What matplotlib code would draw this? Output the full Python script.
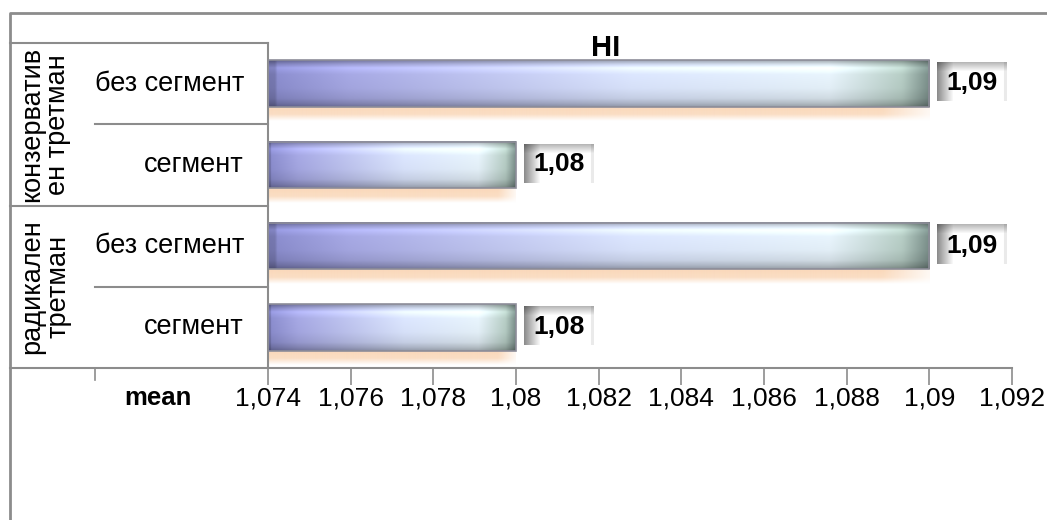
import numpy as np
import matplotlib.pyplot as plt
from matplotlib.lines import Line2D
from matplotlib.transforms import blended_transform_factory
from matplotlib.ticker import FuncFormatter

plt.rcParams['font.family'] = ['Liberation Sans', 'DejaVu Sans']

# data
groups = ['конзерватив\nен третман', 'радикален\nтретман']
subgroups = ['без сегмент', 'сегмент', 'без сегмент', 'сегмент']
values = [1.09, 1.08, 1.09, 1.08]
value_labels = ['1,09', '1,08', '1,09', '1,08']
xticks = [1.074, 1.076, 1.078, 1.08, 1.082, 1.084, 1.086, 1.088, 1.09, 1.092]
title = 'HI'
axis_name = 'mean'

W, H = 1047, 520
fig = plt.figure(figsize=(W / 100, H / 100), dpi=100)
ax = fig.add_axes([268 / W, 1 - 368 / H, (1012 - 268) / W, (368 - 43) / H])

x0 = xticks[0]
bar_h = 0.57
grey = '#8c8c8c'


def bar_image(n=60, m=240):
    # horizontal colour ramp: blue-violet -> pale -> grey-green
    pos = [0.0, 0.12, 0.55, 0.85, 0.96, 1.0]
    cols = np.array([[134, 136, 200], [162, 164, 222], [214, 224, 248],
                     [226, 238, 246], [178, 200, 192], [120, 140, 135]]) / 255
    t = np.linspace(0, 1, m)
    ramp = np.stack([np.interp(t, pos, cols[:, k]) for k in range(3)], -1)
    v = np.linspace(0, 1, n)
    shade = np.interp(v, [0, 0.06, 0.16, 0.3, 0.6, 0.82, 0.94, 1],
                      [0.72, 0.9, 1.14, 1.03, 1.0, 0.92, 0.78, 0.68])
    img = ramp[None, :, :] * shade[:, None, None]
    img[:, :3] *= 0.85
    return np.clip(img, 0, 1)


def shadow_image(n=30, m=200):
    img = np.zeros((n, m, 4))
    img[..., 0] = 250 / 255
    img[..., 1] = 216 / 255
    img[..., 2] = 186 / 255
    a = np.interp(np.linspace(0, 1, n), [0, 0.55, 1], [1.0, 0.85, 0.0])
    b = np.interp(np.linspace(0, 1, m), [0, 0.93, 1], [1, 1, 0.2])
    img[..., 3] = a[:, None] * b[None, :]
    return img


def box_image(n=40, m=70):
    xs = np.arange(m)[None, :]
    ys = np.arange(n)[:, None]
    g = (0.55 + 0.45 * np.minimum(xs / 16, 1)) * (0.72 + 0.28 * np.minimum(ys / 9, 1))
    g = g * (1 - 0.08 * (xs > m - 4))
    return np.repeat(np.clip(g, 0, 1)[..., None], 3, axis=2)


bimg = bar_image()
simg = shadow_image()
gimg = box_image()
px = (xticks[-1] - xticks[0]) / (1012 - 268)  # data units per pixel

for i, v in enumerate(values):
    ax.imshow(simg, extent=(x0, v, i + bar_h / 2 + 0.18, i + bar_h / 2),
              aspect='auto', interpolation='bilinear', zorder=1)
    ax.imshow(bimg, extent=(x0, v, i + bar_h / 2, i - bar_h / 2),
              aspect='auto', interpolation='bilinear', zorder=2)
    ax.barh(i, v - x0, left=x0, height=bar_h, fill=False,
            edgecolor='#8d8d99', linewidth=1.2, zorder=3)
    bl = v + 8 * px
    br = bl + 70 * px
    ax.imshow(gimg, extent=(bl, br, i + 0.22, i - 0.26),
              aspect='auto', interpolation='bilinear', zorder=3)
    ax.text((bl + br) / 2, i + 0.08, value_labels[i], ha='center', va='baseline',
            fontsize=19, fontweight='bold', zorder=4)

ax.set_xlim(xticks[0], xticks[-1])
ax.set_ylim(len(values) - 0.5, -0.5)
ax.set_xticks(xticks)
ax.xaxis.set_major_formatter(FuncFormatter(lambda x, p: ('%g' % x).replace('.', ',')))
ax.set_yticks([])
ax.tick_params(axis='x', length=12, width=1.2, color=grey, labelsize=19, pad=1)
for s in ['top', 'right']:
    ax.spines[s].set_visible(False)
for s in ['left', 'bottom']:
    ax.spines[s].set_color(grey)
    ax.spines[s].set_linewidth(1.5)

# category table on the left
tr = blended_transform_factory(fig.transFigure, ax.transData)
xl, xm, xr = 10 / W, 95 / W, 268 / W
for y in [-0.5, 1.5, 3.5]:
    ax.add_line(Line2D([xl, xr], [y, y], transform=tr, color=grey, lw=1.5, clip_on=False))
for y in [0.5, 2.5]:
    ax.add_line(Line2D([xm, xr], [y, y], transform=tr, color=grey, lw=1.5, clip_on=False))
fig.add_artist(Line2D([xm, xm], [1 - 368 / H, 1 - 380 / H], color=grey, lw=1.2))
# outer chart frame
fig.add_artist(Line2D([xl, xl, 1.0], [0.0, 1 - 13 / H, 1 - 13 / H], color=grey, lw=2))

for i, s in enumerate(subgroups):
    ax.text(244 / W, i, s, transform=tr, ha='right', va='center', fontsize=19.5)
for g, name in enumerate(groups):
    ax.text(45 / W, 2 * g + 0.5, name, transform=tr, ha='center', va='center',
            rotation=90, fontsize=19.5, linespacing=1.02, multialignment='center')

fig.text(606 / W, 1 - 48 / H, title, ha='center', va='center', fontsize=21, fontweight='bold')
fig.text(158 / W, 1 - 398 / H, axis_name, ha='center', va='center', fontsize=18.5, fontweight='bold')

fig.savefig('out.png', dpi=100)
